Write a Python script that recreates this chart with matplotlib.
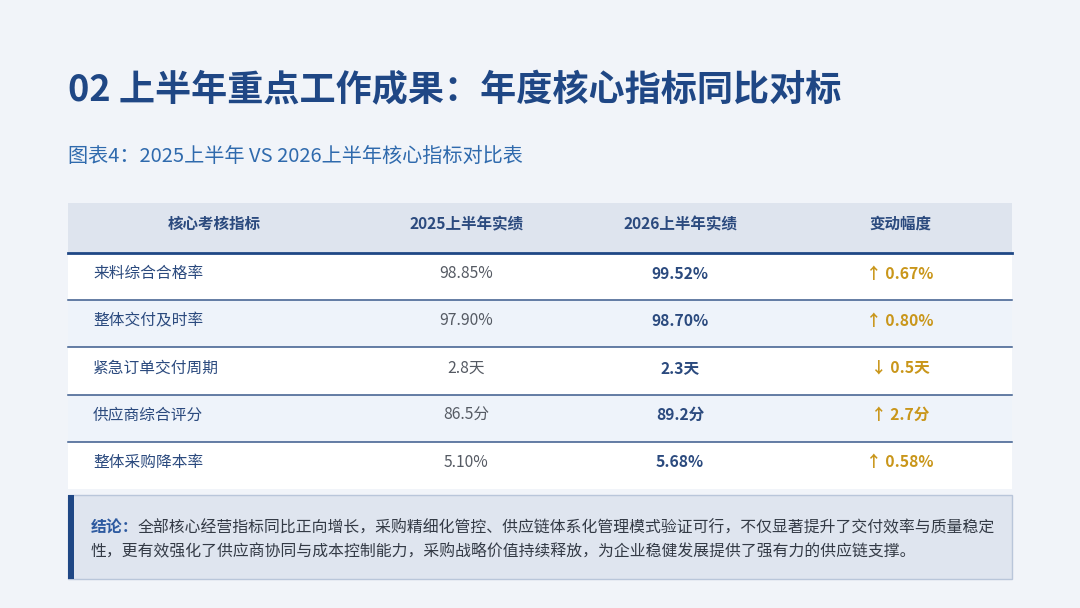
import matplotlib.pyplot as plt
from matplotlib.patches import Rectangle

plt.rcParams['font.family'] = ['Noto Sans CJK SC', 'DejaVu Sans']

title = "02 上半年重点工作成果：年度核心指标同比对标"
subtitle = "图表4：2025上半年 VS 2026上半年核心指标对比表"
headers = ["核心考核指标", "2025上半年实绩", "2026上半年实绩", "变动幅度"]
metrics = ["来料综合合格率", "整体交付及时率", "紧急订单交付周期", "供应商综合评分", "整体采购降本率"]
values_2025 = ["98.85%", "97.90%", "2.8天", "86.5分", "5.10%"]
values_2026 = ["99.52%", "98.70%", "2.3天", "89.2分", "5.68%"]
changes = ["↑ 0.67%", "↑ 0.80%", "↓ 0.5天", "↑ 2.7分", "↑ 0.58%"]
conclusion_head = "结论："
conclusion_lines = [
    "全部核心经营指标同比正向增长，采购精细化管控、供应链体系化管理模式验证可行，不仅显著提升了交付效率与质量稳定",
    "性，更有效强化了供应商协同与成本控制能力，采购战略价值持续释放，为企业稳健发展提供了强有力的供应链支撑。",
]

BG = "#f1f4f9"
NAVY = "#1f4785"
DARK = "#2b4a7e"
GOLD = "#c9961a"

fig = plt.figure(figsize=(10.8, 6.08), dpi=100, facecolor=BG)
ax = fig.add_axes([0, 0, 1, 1])
ax.set_xlim(0, 1080)
ax.set_ylim(608, 0)
ax.axis("off")

# titles
ax.text(68, 91, title, fontsize=26, fontweight="bold", color=NAVY, va="center", ha="left")
ax.text(68, 157, subtitle, fontsize=14.5, color="#2f6aad", va="center", ha="left")

# table layout
left, right = 68, 1012
col_edges = [68, 360, 572, 788, 1012]
col_centers = [(a + b) / 2 for a, b in zip(col_edges[:-1], col_edges[1:])]
head_top, head_bot = 203, 253
row_h = 47.2

ax.add_patch(Rectangle((left, head_top), right - left, head_bot - head_top,
                       facecolor="#dee4ee", edgecolor="none"))
for j, h in enumerate(headers):
    ax.text(col_centers[j], (head_top + head_bot) / 2 - 4, h, fontsize=11.2,
            fontweight="bold", color=DARK, ha="center", va="center")
ax.plot([left, right], [head_bot, head_bot], color=NAVY, lw=2)

for i, m in enumerate(metrics):
    y0 = head_bot + i * row_h
    fc = "#ffffff" if i % 2 == 0 else "#eef3fa"
    ax.add_patch(Rectangle((left, y0), right - left, row_h, facecolor=fc,
                           edgecolor="none", zorder=0.5))
    yc = y0 + row_h / 2 - 3
    ax.text(93, yc, m, fontsize=11.3, color=DARK, ha="left", va="center")
    ax.text(col_centers[1], yc, values_2025[i], fontsize=11.3, color="#555a63",
            ha="center", va="center")
    ax.text(col_centers[2], yc, values_2026[i], fontsize=11.3, fontweight="bold",
            color=DARK, ha="center", va="center")
    ax.text(col_centers[3], yc, changes[i], fontsize=11.3, fontweight="bold",
            color=GOLD, ha="center", va="center")
    if i < len(metrics) - 1:
        ax.plot([left, right], [y0 + row_h, y0 + row_h], color="#3a5a8c", lw=1.1)

# conclusion box
box_top, box_bot = 495, 579
ax.add_patch(Rectangle((left, box_top), right - left, box_bot - box_top,
                       facecolor="#dfe5ef", edgecolor="#b9c6da", lw=1))
ax.add_patch(Rectangle((left, box_top), 6, box_bot - box_top,
                       facecolor=NAVY, edgecolor="none"))

head = ax.text(91, 528, conclusion_head, fontsize=11.4, fontweight="bold",
               color="#2d5aa0", ha="left", va="center")
fig.canvas.draw()
bb = head.get_window_extent()
x_after = bb.x1 * 1080 / fig.bbox.width
ax.text(x_after - 1, 528, conclusion_lines[0], fontsize=11.4, color="#333a45",
        ha="left", va="center")
ax.text(91, 551, conclusion_lines[1], fontsize=11.4, color="#333a45",
        ha="left", va="center")

fig.savefig("out.png", dpi=100, facecolor=BG)
